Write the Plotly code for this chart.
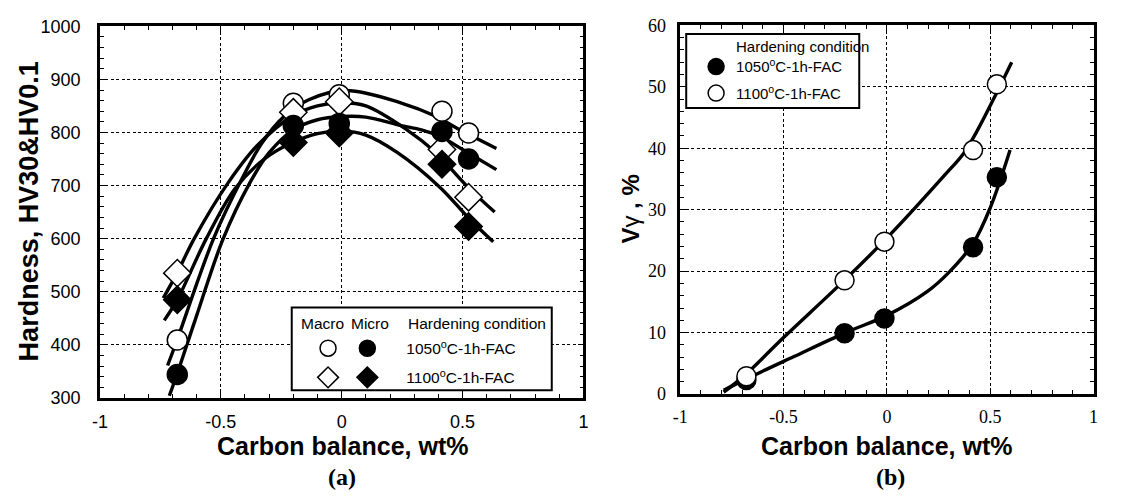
import plotly.graph_objects as go

# ---------------- data : panel (a) ----------------
carbon_a = [-0.68, -0.20, -0.01, 0.415, 0.525]
macro_1050 = [409, 855, 871, 840, 799]
micro_1050 = [344, 813, 817, 802, 750]
macro_1100 = [535, 838, 858, 768, 678]
micro_1100 = [485, 781, 799, 740, 623]

# trend curves
fit_macro_1050_x = [-0.72, -0.68, -0.53, -0.41, -0.33, -0.243, -0.134, 0.02, 0.25, 0.382, 0.477, 0.64]
fit_macro_1050_y = [361, 410, 600, 715, 780, 828, 862, 879, 855, 832, 808, 770]
fit_macro_1100_x = [-0.738, -0.68, -0.61, -0.47, -0.35, -0.2, -0.1, 0.0, 0.1, 0.27, 0.382, 0.518, 0.633]
fit_macro_1100_y = [488, 536, 600, 705, 775, 832, 850, 856, 850, 805, 765, 699, 650]
fit_micro_1050_x = [-0.713, -0.68, -0.6, -0.49, -0.38, -0.3, -0.2, -0.1, 0.0, 0.1, 0.246, 0.33, 0.41, 0.5, 0.64]
fit_micro_1050_y = [304, 346, 455, 600, 705, 762, 805, 824, 830, 829, 813, 805, 792, 768, 730]
fit_micro_1100_x = [-0.734, -0.68, -0.56, -0.44, -0.32, -0.2, -0.1, 0.0, 0.1, 0.231, 0.406, 0.527, 0.627]
fit_micro_1100_y = [446, 485, 600, 695, 750, 782, 798, 803, 795, 762, 697, 638, 594]

# ---------------- data : panel (b) ----------------
carbon_b = [-0.68, -0.205, -0.012, 0.417, 0.532]
vg_1050 = [2.3, 9.9, 12.3, 23.9, 35.3]
vg_1100 = [2.9, 18.5, 24.8, 39.7, 50.4]

fit_b_1050_x = [-0.79, -0.69, -0.45, -0.2, 0.0, 0.196, 0.3, 0.417, 0.5, 0.596]
fit_b_1050_y = [0.6, 2.3, 6.1, 10.0, 12.8, 16.7, 19.8, 24.5, 30.3, 39.7]
fit_b_1100_x = [-0.79, -0.69, -0.5, -0.2, 0.02, 0.276, 0.372, 0.436, 0.516, 0.604]
fit_b_1100_y = [0.3, 3.0, 9.2, 18.7, 26.1, 35.5, 39.2, 42.8, 48.0, 54.0]

# ---------------- tick labels ----------------
x_tickvals = [-1, -0.5, 0, 0.5, 1]
x_ticktext = ["-1", "-0.5", "0", "0.5", "1"]
ya_tickvals = [300, 400, 500, 600, 700, 800, 900, 1000]
yb_tickvals = [0, 10, 20, 30, 40, 50, 60]

W, H = 1146, 501
def px(p):
    return p / W
def py(p):
    return 1 - p / H

SANS = "Liberation Sans, Arial, sans-serif"
SERIF = "Liberation Serif, Times New Roman, serif"

fig = go.Figure()

def curve(x, y, xa, ya):
    fig.add_trace(go.Scatter(x=x, y=y, mode="lines", xaxis=xa, yaxis=ya,
                             line=dict(color="black", width=3.4, shape="spline", smoothing=1.0),
                             showlegend=False, hoverinfo="skip"))

def pts(x, y, xa, ya, symbol, filled, name, legend, group, size):
    fig.add_trace(go.Scatter(x=x, y=y, mode="markers", xaxis=xa, yaxis=ya, name=name,
                             legend=legend, legendgroup=group,
                             marker=dict(symbol=symbol, size=size,
                                         color="black" if filled else "white",
                                         line=dict(color="black", width=1.5))))

# panel (a)
curve(fit_macro_1050_x, fit_macro_1050_y, "x", "y")
curve(fit_macro_1100_x, fit_macro_1100_y, "x", "y")
curve(fit_micro_1050_x, fit_micro_1050_y, "x", "y")
curve(fit_micro_1100_x, fit_micro_1100_y, "x", "y")
pts(carbon_a, macro_1050, "x", "y", "circle", False, " ", "legend", "a1", 20)
pts(carbon_a, macro_1100, "x", "y", "diamond", False, " ", "legend", "a2", 21)
pts(carbon_a, micro_1050, "x", "y", "circle", True, "1050<sup>o</sup>C-1h-FAC", "legend2", "a3", 20)
pts(carbon_a, micro_1100, "x", "y", "diamond", True, "1100<sup>o</sup>C-1h-FAC", "legend2", "a4", 21)

# panel (b)
curve(fit_b_1050_x, fit_b_1050_y, "x2", "y2")
curve(fit_b_1100_x, fit_b_1100_y, "x2", "y2")
pts(carbon_b, vg_1050, "x2", "y2", "circle", True, "1050<sup>o</sup>C-1h-FAC", "legend3", "b1", 19)
pts(carbon_b, vg_1100, "x2", "y2", "circle", False, "1100<sup>o</sup>C-1h-FAC", "legend3", "b2", 19)

axis_common = dict(showline=True, linecolor="black", linewidth=2.6, mirror="allticks",
                   ticks="inside", ticklen=6, tickwidth=1.2, tickcolor="black",
                   showgrid=True, gridcolor="black", gridwidth=1.4, griddash="3px,2.5px",
                   zeroline=False, fixedrange=True)

fig.update_layout(
    width=W, height=H, margin=dict(l=0, r=0, t=0, b=0),
    paper_bgcolor="white", plot_bgcolor="white",
    xaxis=dict(domain=[px(93), px(582)], anchor="y", range=[-1, 1],
               tickvals=x_tickvals, ticktext=x_ticktext,
               tickfont=dict(family=SANS, size=18, color="black"), ticklabelstandoff=6,
               minor=dict(ticks="inside", ticklen=4, dtick=0.1, tick0=0, tickcolor="black", showgrid=False),
               **axis_common),
    yaxis=dict(domain=[py(404), py(17)], anchor="x", range=[300, 1000],
               tickvals=ya_tickvals,
               tickfont=dict(family=SANS, size=18, color="black"), ticklabelstandoff=13,
               minor=dict(ticks="inside", ticklen=4, dtick=20, tick0=0, tickcolor="black", showgrid=False),
               **axis_common),
    xaxis2=dict(domain=[px(680), px(1098)], anchor="y2", range=[-1, 1],
                tickvals=x_tickvals, ticktext=x_ticktext,
                tickfont=dict(family=SERIF, size=18, color="black"), ticklabelstandoff=5,
                minor=dict(ticks="inside", ticklen=4, dtick=0.1, tick0=0, tickcolor="black", showgrid=False),
                **axis_common),
    yaxis2=dict(domain=[py(400), py(16)], anchor="x2", range=[0, 60],
                tickvals=yb_tickvals,
                tickfont=dict(family=SERIF, size=18, color="black"), ticklabelstandoff=8,
                minor=dict(ticks="inside", ticklen=4, dtick=2, tick0=0, tickcolor="black", showgrid=False),
                **axis_common),
    legend=dict(x=px(303.5), xanchor="left", y=py(335), yanchor="top",
                bgcolor="rgba(0,0,0,0)", borderwidth=0, tracegroupgap=6,
                font=dict(family=SANS, size=15.5, color="black"), itemwidth=30),
    legend2=dict(x=px(324), xanchor="left", y=py(335), yanchor="top",
                 bgcolor="rgba(0,0,0,0)", borderwidth=0, tracegroupgap=6,
                 font=dict(family=SANS, size=15.5, color="black"), itemwidth=68),
    legend3=dict(x=px(696), xanchor="left", y=py(42), yanchor="top",
                 bgcolor="rgba(0,0,0,0)", borderwidth=0, tracegroupgap=4,
                 font=dict(family=SANS, size=15, color="black"), itemwidth=30),
    shapes=[
        dict(type="rect", xref="paper", yref="paper", x0=px(287), x1=px(550), y0=py(396), y1=py(310),
             line=dict(color="black", width=2), fillcolor="white", layer="above"),
        dict(type="rect", xref="paper", yref="paper", x0=px(686), x1=px(861), y0=py(102), y1=py(25),
             line=dict(color="black", width=2), fillcolor="white", layer="above"),
    ],
)

ann = []
def text(x, y, s, size, family=SANS, xanchor="center", angle=0):
    ann.append(dict(x=px(x), y=py(y), xref="paper", yref="paper", text=s, showarrow=False,
                    xanchor=xanchor, yanchor="middle", textangle=angle, borderpad=0,
                    font=dict(family=family, size=size, color="black")))

text(338, 454, "<b>Carbon balance, wt%</b>", 25)
text(889, 454, "<b>Carbon balance, wt%</b>", 25)
text(21, 210, "<b>Hardness, HV30&HV0.1</b>", 27, angle=-90)
text(630, 207, "<b>V</b>γ<b> , %</b>", 24, angle=-90)
text(338, 486, "<b>(a)</b>", 24, family=SERIF)
text(893, 486, "<b>(b)</b>", 24, family=SERIF)
text(318.5, 327, "Macro", 15.5)
text(366, 327, "Micro", 15.5)
text(404, 327, "Hardening condition", 15.5, xanchor="left")
text(735, 38, "Hardening condition", 15, xanchor="left")
fig.update_layout(annotations=ann)

fig.write_html("out.html")
